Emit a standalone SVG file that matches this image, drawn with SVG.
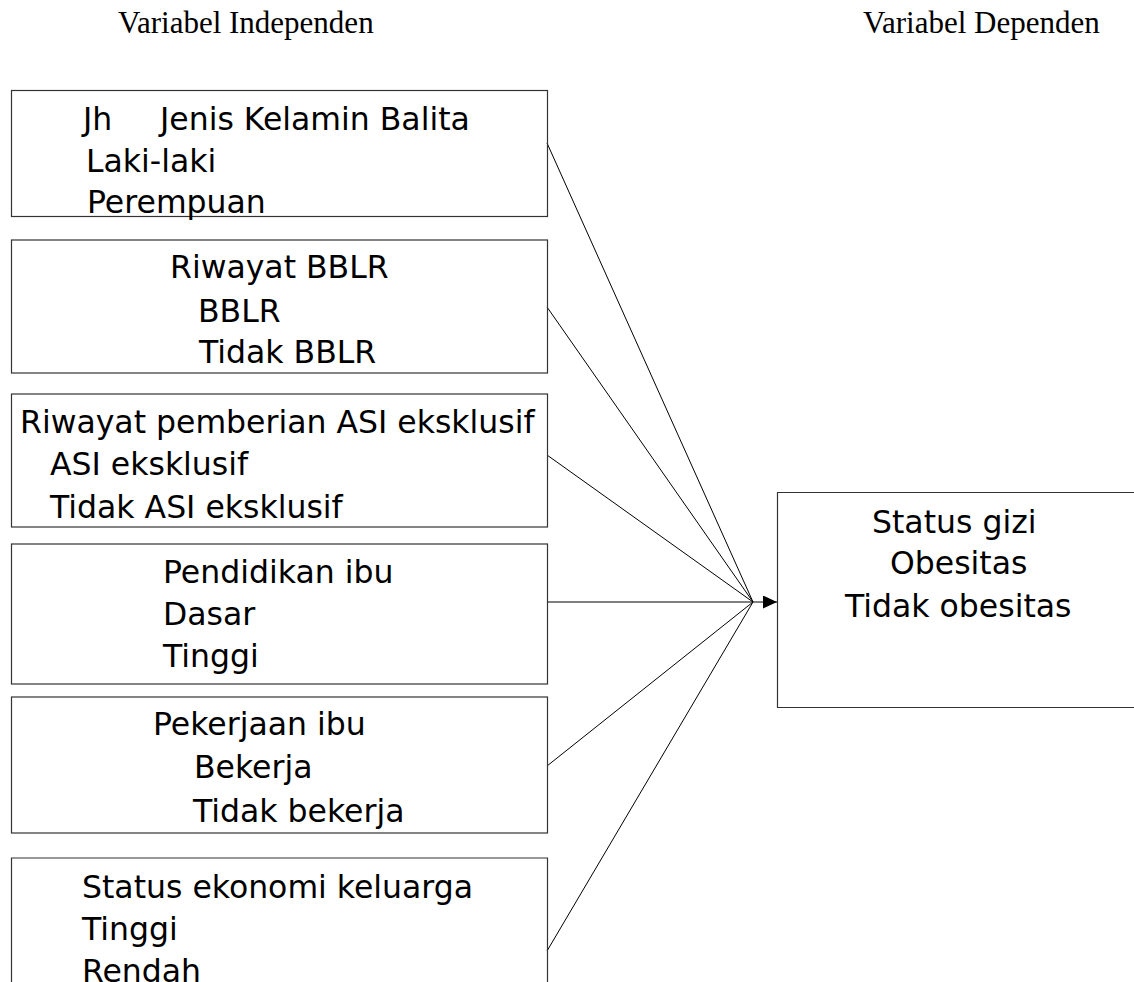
<svg xmlns="http://www.w3.org/2000/svg" width="1134" height="982" viewBox="0 0 1134 982">
<style>
.box{fill:none;stroke:#333;stroke-width:1.2}
.t{font-family:"DejaVu Sans",sans-serif;font-size:31.5px;fill:#000}
.h{font-family:"Liberation Serif",serif;font-size:31px;fill:#000}
.c{stroke:#000;stroke-width:1;fill:none}
</style>
<defs>
<marker id="arr" viewBox="0 0 14 13" refX="14" refY="6.5" markerWidth="14" markerHeight="13" markerUnits="userSpaceOnUse" orient="auto">
<path d="M0,0 L14,6.5 L0,13 Z" fill="#000"/>
</marker>
</defs>
<rect width="1134" height="982" fill="#fff"/>
<text class="h" x="118" y="33">Variabel Independen</text>
<text class="h" x="863" y="33">Variabel Dependen</text>
<g id="connectors">
<line class="c" x1="547" y1="143" x2="753" y2="602"/>
<line class="c" x1="547" y1="307" x2="753" y2="602"/>
<line class="c" x1="547" y1="455" x2="753" y2="602"/>
<line class="c" x1="547" y1="602" x2="753" y2="602"/>
<line class="c" x1="547" y1="766" x2="753" y2="602"/>
<line class="c" x1="547" y1="951" x2="753" y2="602"/>
<line class="c" x1="753" y1="602" x2="777" y2="602" marker-end="url(#arr)"/>
</g>
<g id="node1">
<rect class="box" x="11.5" y="90.5" width="536" height="126"/>
<text class="t" x="83" y="130">Jh</text>
<text class="t" x="160" y="130">Jenis Kelamin Balita</text>
<text class="t" x="86" y="172">Laki-laki</text>
<text class="t" x="87" y="213">Perempuan</text>
</g>
<g id="node2">
<rect class="box" x="11.5" y="240" width="536" height="133"/>
<text class="t" x="170" y="278">Riwayat BBLR</text>
<text class="t" x="198" y="322">BBLR</text>
<text class="t" x="199" y="363">Tidak BBLR</text>
</g>
<g id="node3">
<rect class="box" x="11.5" y="394" width="536" height="133"/>
<text class="t" x="20" y="433">Riwayat pemberian ASI eksklusif</text>
<text class="t" x="50" y="475">ASI eksklusif</text>
<text class="t" x="50" y="518">Tidak ASI eksklusif</text>
</g>
<g id="node4">
<rect class="box" x="11.5" y="544" width="536" height="140"/>
<text class="t" x="163" y="583">Pendidikan ibu</text>
<text class="t" x="163" y="625">Dasar</text>
<text class="t" x="163" y="667">Tinggi</text>
</g>
<g id="node5">
<rect class="box" x="11.5" y="697" width="536" height="136"/>
<text class="t" x="153" y="735">Pekerjaan ibu</text>
<text class="t" x="194" y="778">Bekerja</text>
<text class="t" x="193" y="822">Tidak bekerja</text>
</g>
<g id="node6">
<path class="box" d="M11.5,990 V858 H547.5 V990"/>
<text class="t" x="82" y="898">Status ekonomi keluarga</text>
<text class="t" x="82" y="940">Tinggi</text>
<text class="t" x="82" y="982">Rendah</text>
</g>
<g id="node7">
<path class="box" d="M1140,492.5 H777.5 V707.5 H1140"/>
<text class="t" x="872" y="533">Status gizi</text>
<text class="t" x="890" y="574">Obesitas</text>
<text class="t" x="845" y="617">Tidak obesitas</text>
</g>
</svg>
